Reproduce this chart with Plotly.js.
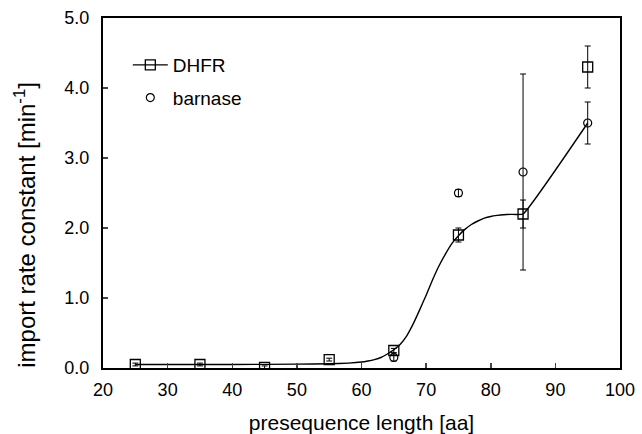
<!DOCTYPE html>
<html>
<head>
<meta charset="utf-8">
<script src="https://cdn.plot.ly/plotly-3.0.1.min.js"></script>
<style>html,body{margin:0;padding:0;background:#fff;}#chart{width:642px;height:434px;}</style>
</head>
<body>
<div id="chart"></div>
<script>
// DHFR measurements
var dhfrX = [25, 35, 45, 55, 65, 75, 85, 95];
var dhfrY = [0.05, 0.05, 0.01, 0.12, 0.25, 1.9, 2.2, 4.3];
var dhfrErr = [0.02, 0.02, 0.02, 0.02, 0.03, 0.1, 0.2, 0.3];
// barnase measurements
var barX = [65, 75, 85, 95];
var barY = [0.15, 2.5, 2.8, 3.5];
var barErr = [0.05, 0.05, 1.4, 0.3];
// fitted curve
var fitX = [25, 30, 40, 50, 55, 58, 60, 61, 62, 63, 64, 65, 66, 67, 68, 69, 70, 71, 72, 73, 74, 75, 76, 77, 78, 79, 80, 81, 82, 83, 85, 95];
var fitY = [0.05, 0.05, 0.05, 0.055, 0.06, 0.07, 0.085, 0.1, 0.12, 0.15, 0.2, 0.26, 0.34, 0.46, 0.63, 0.83, 1.04, 1.26, 1.46, 1.63, 1.78, 1.89, 1.98, 2.05, 2.1, 2.14, 2.165, 2.18, 2.19, 2.195, 2.2, 3.5];

var xTitle = 'presequence length [aa]';
var yTitle = 'import rate constant [min<sup>-1</sup>]';

var errStyle = {type: 'data', visible: true, color: '#000', thickness: 1, width: 3};
var fontFam = 'Liberation Sans, Arial, Helvetica, sans-serif';

var traces = [
  {x: fitX, y: fitY, mode: 'lines', line: {color: '#000', width: 1.4, shape: 'spline', smoothing: 0.3}, showlegend: false, hoverinfo: 'skip'},
  {x: dhfrX, y: dhfrY, mode: 'markers', showlegend: false,
   marker: {symbol: 'square-open', size: 10, color: '#000', line: {width: 1.3}},
   error_y: Object.assign({array: dhfrErr}, errStyle)},
  {x: barX, y: barY, mode: 'markers', showlegend: false,
   marker: {symbol: 'circle-open', size: 8, color: '#000', line: {width: 1.2}},
   error_y: Object.assign({array: barErr}, errStyle)},
  {x: [null], y: [null], mode: 'lines+markers', name: 'DHFR', legendgroup: 'a',
   line: {color: '#000', width: 1.3}, marker: {symbol: 'square-open', size: 10, color: '#000', line: {width: 1.3}}},
  {x: [null], y: [null], mode: 'markers', name: 'barnase', legendgroup: 'b',
   marker: {symbol: 'circle-open', size: 8, color: '#000', line: {width: 1.2}}}
];

var layout = {
  width: 642, height: 434,
  margin: {l: 103, r: 22, t: 18, b: 66},
  paper_bgcolor: '#fff', plot_bgcolor: '#fff',
  font: {family: fontFam, color: '#000', size: 18},
  showlegend: true,
  legend: {x: 0.048, y: 0.92, xanchor: 'left', yanchor: 'top', bgcolor: 'rgba(0,0,0,0)',
           font: {size: 19, family: fontFam}, itemwidth: 35, tracegroupgap: 5, traceorder: 'grouped'},
  xaxis: {range: [20, 100], dtick: 10, tick0: 20, ticks: 'inside', ticklen: 5, tickwidth: 1.5,
          showline: true, linewidth: 2, linecolor: '#000', mirror: true, showgrid: false, zeroline: false,
          tickfont: {size: 18}, ticklabelstandoff: 4,
          title: {text: xTitle, font: {size: 21}, standoff: 17}},
  yaxis: {range: [0, 5], dtick: 1, tick0: 0, tickformat: '.1f', ticks: 'inside', ticklen: 5, tickwidth: 1.5,
          showline: true, linewidth: 2, linecolor: '#000', mirror: true, showgrid: false, zeroline: false,
          tickfont: {size: 18}, ticklabelstandoff: 8},
  annotations: [{text: yTitle, textangle: -90, xref: 'paper', yref: 'paper', x: -0.151, y: 0.409,
                 xanchor: 'center', yanchor: 'middle', showarrow: false, font: {size: 24, family: fontFam}}]
};

Plotly.newPlot('chart', traces, layout, {displayModeBar: false, staticPlot: true});
</script>
</body>
</html>
